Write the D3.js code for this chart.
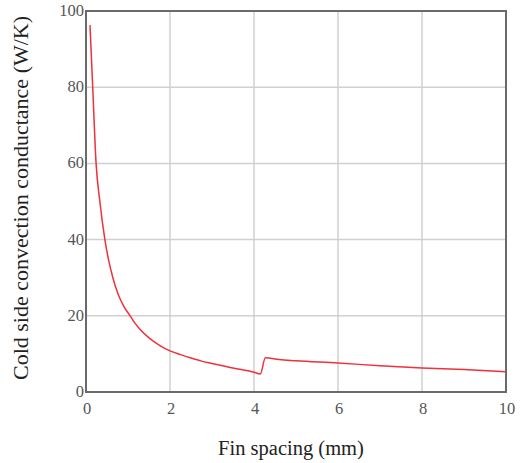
<!DOCTYPE html>
<html>
<head>
<meta charset="utf-8">
<script src="https://cdn.jsdelivr.net/npm/d3@7"></script>
<style>
  body { margin: 0; background: #fff; }
  text { font-family: "Liberation Serif", "DejaVu Serif", serif; }
</style>
</head>
<body>
<svg id="chart" width="529" height="463"></svg>
<script>
// fin spacing (mm) vs cold side convection conductance (W/K)
var spacing = [0.095, 0.16, 0.24, 0.33, 0.45, 0.55, 0.64, 0.77, 0.9, 1.05, 1.17, 1.29, 1.5, 1.76, 2.0, 2.25,
  2.5, 2.75, 3.0, 3.25, 3.5, 3.75, 4.0, 4.15,
  4.27, 4.6, 5.0, 6.0, 7.0, 8.0, 9.0, 10.0];
var conductance = [96.3, 80, 60, 50, 40, 34, 30, 25.5, 22.5, 20, 18, 16.4, 14.2, 12.2, 10.8, 9.8,
  8.9, 8.1, 7.5, 6.9, 6.3, 5.8, 5.2, 4.7,
  9.0, 8.5, 8.2, 7.6, 6.9, 6.3, 5.9, 5.3];
var xTicks = [0, 2, 4, 6, 8, 10];
var yTicks = [0, 20, 40, 60, 80, 100];

var svg = d3.select("#chart");
var m = {left: 86, top: 11, right: 506, bottom: 392};

var x = d3.scaleLinear().domain([0, 10]).range([m.left, m.right]);
var y = d3.scaleLinear().domain([0, 100]).range([m.bottom, m.top]);

// grid
svg.append("g")
  .selectAll("line")
  .data(xTicks.slice(1, -1))
  .join("line")
    .attr("x1", d => x(d)).attr("x2", d => x(d))
    .attr("y1", m.top).attr("y2", m.bottom)
    .attr("stroke", "#d0d0d0").attr("stroke-width", 1.5);

svg.append("g")
  .selectAll("line")
  .data(yTicks.slice(1, -1))
  .join("line")
    .attr("x1", m.left).attr("x2", m.right)
    .attr("y1", d => y(d)).attr("y2", d => y(d))
    .attr("stroke", "#d0d0d0").attr("stroke-width", 1.5);

// curve (monotone keeps the jump near 4.2 mm sharp)
var pts = spacing.map((s, i) => [s, conductance[i]]);
svg.append("path")
  .datum(pts)
  .attr("fill", "none")
  .attr("stroke", "#f0303a")
  .attr("stroke-width", 1.5)
  .attr("d", d3.line().curve(d3.curveMonotoneX).x(d => x(d[0])).y(d => y(d[1])));

// frame
svg.append("rect")
  .attr("x", m.left).attr("y", m.top)
  .attr("width", m.right - m.left).attr("height", m.bottom - m.top)
  .attr("fill", "none").attr("stroke", "#6a6a6a").attr("stroke-width", 2);

// tick labels
svg.append("g")
  .selectAll("text")
  .data(xTicks)
  .join("text")
    .attr("x", d => x(d) + 1).attr("y", 414)
    .attr("text-anchor", "middle")
    .attr("font-size", 16.5).attr("fill", "#555")
    .text(d => d);

svg.append("g")
  .selectAll("text")
  .data(yTicks)
  .join("text")
    .attr("x", m.left - 2).attr("y", d => y(d) + 5)
    .attr("text-anchor", "end")
    .attr("font-size", 16.5).attr("fill", "#555")
    .text(d => d);

// axis titles
svg.append("text")
  .attr("x", 291).attr("y", 455)
  .attr("text-anchor", "middle")
  .attr("font-size", 20.5).attr("fill", "#222")
  .text("Fin spacing (mm)");

svg.append("text")
  .attr("transform", "translate(28,198) rotate(-90)")
  .attr("text-anchor", "middle")
  .attr("font-size", 22).attr("fill", "#222")
  .text("Cold side convection conductance (W/K)");
</script>
</body>
</html>
